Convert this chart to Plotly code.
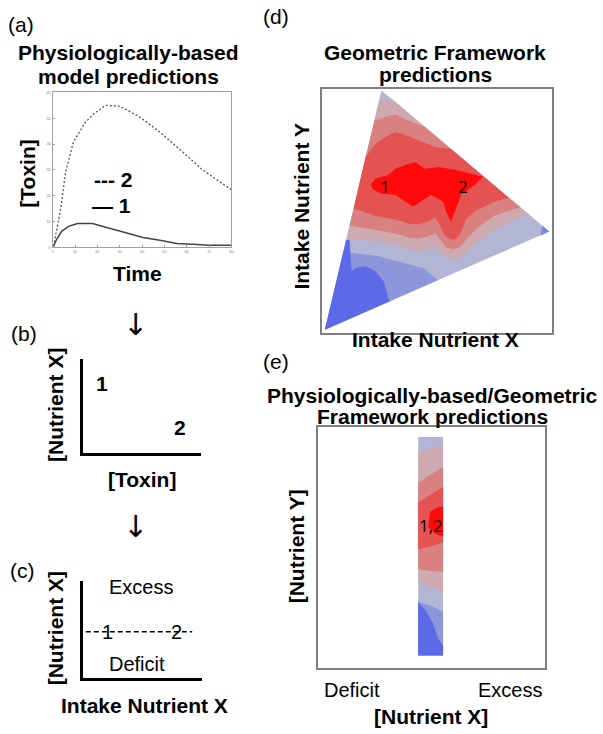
import plotly.graph_objects as go

# ---------------- data ----------------
# (a) physiologically-based model predictions
time_2 = [0.4, 2.7, 3.6, 5.8, 9.3, 14.7, 18.2, 23.6, 30.2, 39.1, 48.0, 58.2, 67.1, 74.7, 80.0]
toxin_2 = [0.4, 11.2, 15.0, 29.2, 40.8, 48.5, 51.5, 55.0, 54.6, 50.4, 44.6, 36.9, 30.0, 25.4, 22.3]
time_1 = [0.4, 1.8, 4.0, 7.1, 11.1, 17.8, 25.8, 33.3, 40.4, 48.0, 55.6, 62.7, 70.2, 80.0]
toxin_1 = [0.4, 3.1, 6.2, 8.1, 9.2, 9.2, 7.3, 5.4, 3.8, 2.7, 1.5, 1.2, 0.8, 0.8]
a_xticks = [0, 10, 20, 30, 40, 50, 60, 70, 80]
a_yticks = [0, 10, 20, 30, 40, 50, 60]

# (b) nutrient X vs toxin
b_labels = ["1", "2"]
b_toxin = [1.6, 8.2]
b_nutrient = [7.4, 2.7]

# (c) nutrient X vs intake nutrient X
c_labels = ["1", "2"]
c_intake = [2.0, 7.9]
c_level = 4.8
c_line_x = [0.2, 9.2]
c_zone_text = ["Excess", "Deficit"]
c_zone_x = [2.0, 2.0]
c_zone_y = [9.4, 1.5]

# (d) geometric framework contour bands (intake X, intake Y)
tri_x = [3, 60, 229]
tri_y = [3, 244, 102]
pink_x = [58, 71, 207, 197, 182, 167, 153, 143, 135, 127, 120, 114, 107, 97, 87, 74, 57, 40, 25]
pink_y = [235, 235, 120, 116, 108, 99, 88, 78, 74, 75, 80, 86, 84, 82, 84, 89, 91, 94, 95]
rose_x = [53, 64, 74, 84, 97, 104, 200, 189, 174, 157, 147, 139, 132, 125, 119, 114, 107, 97, 87, 74, 57, 40, 28]
rose_y = [214, 217, 220, 215, 210, 207, 126, 123, 118, 106, 96, 86, 84, 86, 94, 100, 97, 95, 96, 100, 103, 106, 108]
red_x = [44, 54, 64, 74, 84, 97, 114, 130, 188, 174, 155, 145, 140, 135, 129, 123, 118, 114, 107, 97, 87, 74, 57, 40, 32]
red_y = [177, 190, 197, 202, 199, 194, 187, 185, 136, 132, 123, 114, 101, 94, 94, 99, 110, 116, 112, 109, 110, 114, 117, 122, 125]
core_x = [49, 54, 67, 74, 84, 94, 104, 117, 134, 150, 162, 154, 140, 135, 130, 125, 122, 110, 104, 92, 84, 74, 60, 52]
core_y = [149, 155, 159, 165, 169, 172, 165, 167, 164, 160, 157, 149, 139, 125, 112, 122, 132, 139, 135, 127, 132, 139, 140, 144]
mblue_x = [22, 32, 42, 57, 72, 87, 102, 117, 3]
mblue_y = [82, 80, 79, 77, 73, 69, 65, 53, 3]
bblue_x = [24.5, 28, 29, 30, 34, 44, 54, 62, 67, 69, 3]
bblue_y = [94, 93, 75, 62, 65, 67, 62, 52, 35, 32, 3]
tip_x = [229, 222, 220]
tip_y = [102, 108, 98]
d_labels = ["1", "2"]
d_label_x = [64, 142]
d_label_y = [147, 147]

# (e) combined predictions strip ([Nutrient X], [Nutrient Y])
strip_x = [101, 126, 126, 101]
strip_y = [13, 13, 233, 233]
e_band_x = [101, 114, 126, 126, 114, 101]
e_pink_y = [217, 222, 225, 77, 82, 87]
e_rose_y = [187, 195, 203, 97, 98, 100]
e_red_y = [167, 175, 183, 127, 123, 120]
e_core_x = [111, 113, 121, 126, 126, 119]
e_core_y = [142, 158, 162, 163, 133, 135]
e_mblue_x = [101, 114, 126, 126, 101]
e_mblue_y = [67, 63, 57, 13, 13]
e_bblue_x = [101, 109, 116, 121, 126, 126, 101]
e_bblue_y = [67, 58, 45, 30, 23, 13, 13]
e_label = "1,2"
e_label_x = 114
e_label_y = 144

# ---------------- colours ----------------
C_BASE = "rgb(178,182,212)"
C_PINK = "rgb(205,170,176)"
C_ROSE = "rgb(217,128,128)"
C_RED = "rgb(228,82,82)"
C_CORE = "rgb(255,10,10)"
C_MBLUE = "rgb(140,150,218)"
C_BBLUE = "rgb(92,106,232)"
C_TIP = "rgb(125,138,225)"

W, H = 603, 734
BOLD = "Liberation Sans"

fig = go.Figure()


def poly(x, y, color, ax):
    fig.add_trace(go.Scatter(x=x, y=y, fill="toself", fillcolor=color, mode="lines",
                             line=dict(width=0, color=color), hoverinfo="skip",
                             xaxis="x" + ax, yaxis="y" + ax))


# (a) curves
fig.add_trace(go.Scatter(x=time_2, y=toxin_2, mode="lines", xaxis="x", yaxis="y",
                         line=dict(color="#555555", width=1.3, dash="2px,2px"), hoverinfo="skip"))
fig.add_trace(go.Scatter(x=time_1, y=toxin_1, mode="lines", xaxis="x", yaxis="y",
                         line=dict(color="#444444", width=1.5), hoverinfo="skip"))

# (c) dashed line
fig.add_trace(go.Scatter(x=c_line_x, y=[c_level, c_level], mode="lines", xaxis="x3", yaxis="y3",
                         line=dict(color="black", width=1.5, dash="5px,3px"), hoverinfo="skip"))

# (d) bands
poly(tri_x, tri_y, C_BASE, "4")
poly(pink_x, pink_y, C_PINK, "4")
poly(rose_x, rose_y, C_ROSE, "4")
poly(red_x, red_y, C_RED, "4")
poly(core_x, core_y, C_CORE, "4")
poly(mblue_x, mblue_y, C_MBLUE, "4")
poly(bblue_x, bblue_y, C_BBLUE, "4")
poly(tip_x, tip_y, C_TIP, "4")

# (e) bands
poly(strip_x, strip_y, C_BASE, "5")
poly(e_band_x, e_pink_y, C_PINK, "5")
poly(e_band_x, e_rose_y, C_ROSE, "5")
poly(e_band_x, e_red_y, C_RED, "5")
poly(e_core_x, e_core_y, C_CORE, "5")
poly(e_mblue_x, e_mblue_y, C_MBLUE, "5")
poly(e_bblue_x, e_bblue_y, C_BBLUE, "5")


def dom_x(a, b):
    return [a / W, b / W]


def dom_y(top, bottom):
    return [1 - bottom / H, 1 - top / H]


plain = dict(showgrid=False, zeroline=False, showticklabels=False, ticks="", fixedrange=True)

layout_axes = dict(
    xaxis=dict(domain=dom_x(52, 232), range=[0, 80], anchor="y", showline=True, mirror=True,
               linecolor="#a0a0a0", linewidth=1, ticks="inside", ticklen=2, tickcolor="#999",
               tickvals=a_xticks, tickfont=dict(size=4, color="#888"), showgrid=False, zeroline=False),
    yaxis=dict(domain=dom_y(90, 246), range=[0, 60], anchor="x", showline=True, mirror=True,
               linecolor="#a0a0a0", linewidth=1, ticks="inside", ticklen=2, tickcolor="#999",
               tickvals=a_yticks, tickfont=dict(size=4, color="#888"), showgrid=False, zeroline=False),
    xaxis2=dict(domain=dom_x(83, 201), range=[0, 10], anchor="y2", showline=True,
                linecolor="black", linewidth=3, **plain),
    yaxis2=dict(domain=dom_y(358, 453), range=[0, 10], anchor="x2", showline=True,
                linecolor="black", linewidth=3, **plain),
    xaxis3=dict(domain=dom_x(83, 202), range=[0, 10], anchor="y3", showline=True,
                linecolor="black", linewidth=3, **plain),
    yaxis3=dict(domain=dom_y(582, 680), range=[0, 10], anchor="x3", showline=True,
                linecolor="black", linewidth=3, **plain),
    xaxis4=dict(domain=dom_x(323, 555), range=[0, 232], anchor="y4", showline=True, mirror=True,
                linecolor="#7f7f7f", linewidth=1.5, **plain),
    yaxis4=dict(domain=dom_y(87, 332), range=[0, 245], anchor="x4", showline=True, mirror=True,
                linecolor="#7f7f7f", linewidth=1.5, **plain),
    xaxis5=dict(domain=dom_x(319, 548), range=[0, 229], anchor="y5", showline=True, mirror=True,
                linecolor="#7f7f7f", linewidth=1.5, **plain),
    yaxis5=dict(domain=dom_y(427, 670), range=[0, 243], anchor="x5", showline=True, mirror=True,
                linecolor="#7f7f7f", linewidth=1.5, **plain),
)

ann = []


def ptxt(text, px, py, size=21, bold=True, angle=0, xanchor="center", family=BOLD, color="black"):
    t = "<b>%s</b>" % text if bold else text
    ann.append(dict(text=t, x=px / W, y=1 - py / H, xref="paper", yref="paper", showarrow=False,
                    xanchor=xanchor, yanchor="middle", textangle=angle,
                    font=dict(size=size, family=family, color=color)))


# panel letters
ptxt("(a)", 20, 22, size=21, bold=False)
ptxt("(b)", 23, 333, size=21, bold=False)
ptxt("(c)", 22, 571, size=21, bold=False)
ptxt("(d)", 277, 14, size=21, bold=False)
ptxt("(e)", 277, 361, size=21, bold=False)

# (a)
ptxt("Physiologically-based", 128, 50)
ptxt("model predictions", 128, 74)
ptxt("[Toxin]", 27, 172, angle=-90)
ptxt("Time", 137, 272)
ptxt("--- 2", 92, 178, xanchor="left")
ptxt("— 1", 90, 204, xanchor="left")

# arrows
ptxt("↓", 135, 324, size=30, bold=False, family="DejaVu Sans")
ptxt("↓", 135, 527, size=30, bold=False, family="DejaVu Sans")

# (b)
ptxt("[Nutrient X]", 55, 405, angle=-90)
ptxt("[Toxin]", 142, 480)
for lab, xv, yv in zip(b_labels, b_toxin, b_nutrient):
    ann.append(dict(text="<b>%s</b>" % lab, x=xv, y=yv, xref="x2", yref="y2", showarrow=False,
                    font=dict(size=21, family=BOLD, color="black")))

# (c)
ptxt("[Nutrient X]", 55, 630, angle=-90)
ptxt("Intake Nutrient X", 144, 707)
for lab, xv in zip(c_labels, c_intake):
    ann.append(dict(text=lab, x=xv, y=c_level, xref="x3", yref="y3", showarrow=False,
                    font=dict(size=20, family=BOLD, color="black")))
for lab, xv, yv in zip(c_zone_text, c_zone_x, c_zone_y):
    ann.append(dict(text=lab, x=xv, y=yv, xref="x3", yref="y3", showarrow=False, xanchor="left",
                    font=dict(size=20, family=BOLD, color="black")))

# (d)
ptxt("Geometric Framework", 437, 50)
ptxt("predictions", 437, 72)
ptxt("Intake Nutrient Y", 303, 205, angle=-90)
ptxt("Intake Nutrient X", 437, 339)
for lab, xv, yv in zip(d_labels, d_label_x, d_label_y):
    ann.append(dict(text=lab, x=xv, y=yv, xref="x4", yref="y4", showarrow=False,
                    font=dict(size=17, family="Open Sans", color="black")))

# (e)
ptxt("Physiologically-based/Geometric", 434, 395)
ptxt("Framework predictions", 434, 416)
ptxt("[Nutrient Y]", 297, 547, angle=-90)
ptxt("Deficit", 353, 692, size=20, bold=False)
ptxt("Excess", 512, 692, size=20, bold=False)
ptxt("[Nutrient X]", 433, 718)
ann.append(dict(text=e_label, x=e_label_x, y=e_label_y, xref="x5", yref="y5", showarrow=False,
                font=dict(size=17, family="Open Sans", color="black")))

fig.update_layout(width=W, height=H, autosize=False, margin=dict(l=0, r=0, t=0, b=0),
                  paper_bgcolor="white", plot_bgcolor="white", showlegend=False,
                  font=dict(family=BOLD, color="black"), annotations=ann, **layout_axes)

fig.write_html("out.html", config={"displayModeBar": False},
               post_script="document.body.style.margin='0';document.body.style.padding='0';")
